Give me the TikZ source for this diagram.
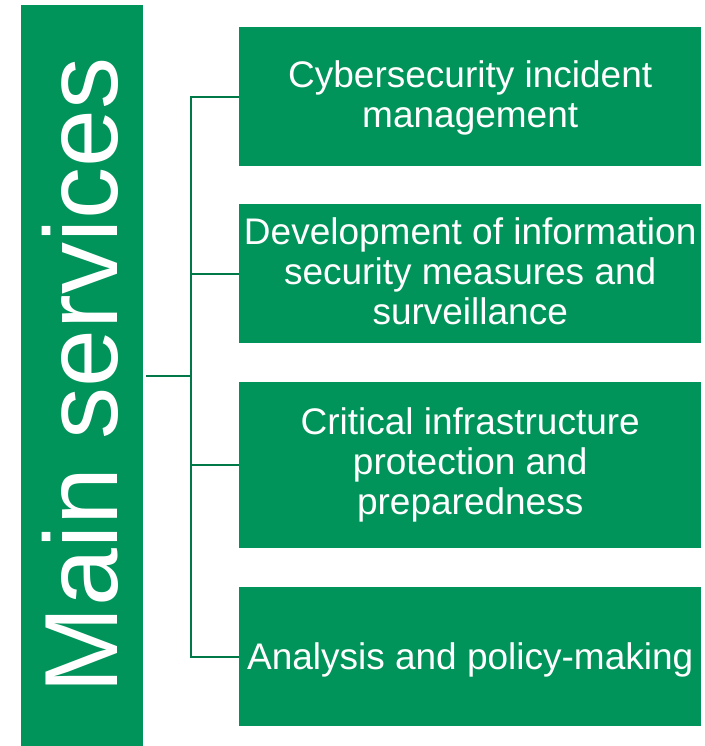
\documentclass[tikz,border=0pt]{standalone}
\usepackage{fontspec}
\setmainfont{Liberation Sans}
\definecolor{boxgreen}{RGB}{0,148,90}
\definecolor{linegreen}{RGB}{0,120,72}
\begin{document}
\begin{tikzpicture}[x=1pt,y=-1pt,
  svcbox/.style={fill=boxgreen,draw=none,inner sep=0pt,minimum width=462pt,anchor=north west},
  svctext/.style={text=white,align=center,font=\fontsize{37}{40}\selectfont,inner sep=0pt},
  conn/.style={draw=linegreen,line width=2pt}]
\useasboundingbox (0,0) rectangle (704,746);
\fill[boxgreen] (21,5) rectangle (143,746);
\node[text=white,rotate=90,font=\fontsize{104}{110}\selectfont,anchor=base,inner sep=0pt] (main) at (117,375.5) {Main services};
\coordinate (mainR) at (146,376);
\coordinate (hub) at (191,376);
\node[svcbox,minimum height=139pt] (b1) at (239,27) {};
\node[svcbox,minimum height=139pt] (b2) at (239,204) {};
\node[svcbox,minimum height=166pt] (b3) at (239,382) {};
\node[svcbox,minimum height=139pt] (b4) at (239,587) {};
\node[svctext] (t1) at ([yshift=-1.6pt]b1.center) {Cybersecurity incident\\management};
\node[svctext] (t2) at ([yshift=2.7pt]b2.center) {Development of information\\security measures and\\surveillance};
\node[svctext] (t3) at (b3.center) {Critical infrastructure\\protection and\\preparedness};
\node[svctext] (t4) at ([yshift=-3.2pt]b4.center) {Analysis and policy-making};
\draw[conn] (mainR) -- (hub);
\draw[conn] (b1.west) -| (hub);
\draw[conn] (b4.west) -| (hub);
\draw[conn] (b2.west) -- (b2.west -| hub);
\draw[conn] (b3.west) -- (b3.west -| hub);
\end{tikzpicture}
\end{document}
